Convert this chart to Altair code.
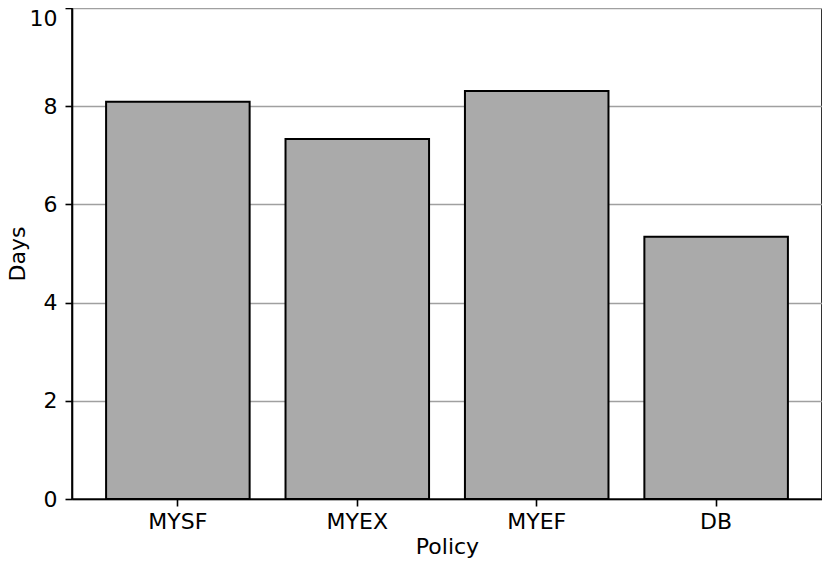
import altair as alt
import pandas as pd

policies = ["MYSF", "MYEX", "MYEF", "DB"]
days = [8.09, 7.33, 8.31, 5.34]

df = pd.DataFrame({"Policy": policies, "Days": days})

FONT = "DejaVu Sans"
FS = 22

chart = alt.Chart(df).mark_bar(
    color="#aaaaaa", stroke="black", strokeWidth=2
).encode(
    x=alt.X("Policy:N", sort=policies,
            scale=alt.Scale(paddingInner=0.2, paddingOuter=0.19),
            axis=alt.Axis(title="Policy", labelAngle=0, grid=False,
                          tickSize=7, tickWidth=1.6, tickColor="black",
                          domainColor="black", domainWidth=1.6,
                          labelPadding=5, titlePadding=4)),
    y=alt.Y("Days:Q", scale=alt.Scale(domain=[0, 10], nice=False),
            axis=alt.Axis(title="Days", values=[0, 2, 4, 6, 8, 10],
                          tickSize=7, tickWidth=1.6, tickColor="black",
                          domainColor="black", domainWidth=1.6,
                          labelPadding=8, titlePadding=0,
                          labelBaseline={"condition": {"test": "datum.value == 10", "value": "top"},
                                         "value": "middle"},
                          grid=True, gridColor="#a0a0a0", gridWidth=1.6)),
).properties(
    width=750, height=491,
    autosize=alt.AutoSizeParams(type="none"),
    padding={"left": 64, "top": 0, "right": 0, "bottom": 60},
).configure_view(
    stroke="black", strokeWidth=1.6
).configure_axis(
    labelFont=FONT, titleFont=FONT, labelFontSize=FS, titleFontSize=FS,
    labelColor="black", titleColor="black", titleFontWeight="normal",
)

chart.save("out.html", embed_options={"renderer": "svg", "actions": False})
